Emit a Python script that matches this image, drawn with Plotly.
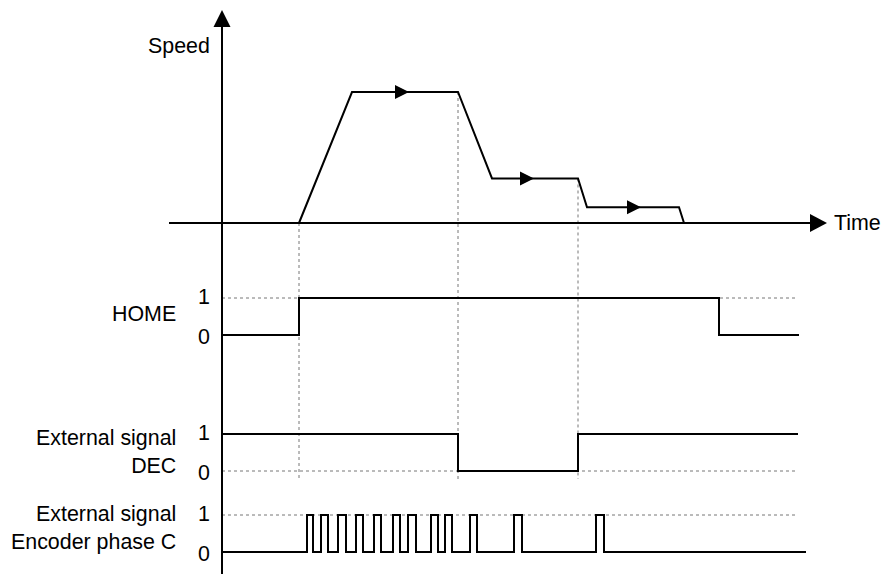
import plotly.graph_objects as go
import numpy as np

W, H = 882, 574
FONT = "Liberation Sans, Arial, sans-serif"

# time in drawing ticks, 0 at the vertical axis
speed_t = [77, 130, 236, 270, 356, 365, 457, 462]
speed_v = [0, 100, 100, 34, 34, 12, 12, 0]
speed_arrow_t = [173, 298, 405]

home_t = [0, 77, 497, 577]
home_v = [0, 1, 0, 0]

dec_t = [0, 236, 356, 576]
dec_v = [1, 0, 1, 1]

enc_rise = [85, 99, 116, 134, 152, 171, 186, 209, 223, 248, 292, 374]
enc_fall = [91, 106, 124, 141, 159, 178, 194, 216, 230, 255, 300, 382]
enc_end = 584

guide_t = [77, 236, 356]
level_end = 576

# pixel layout: (pixel of value 0, pixel of value top, top value)
X0 = 222  # pixel of t=0
AX = {
    "y": (223, 92, 100),    # speed
    "y2": (335, 298, 1),    # HOME
    "y3": (471, 434, 1),    # DEC
    "y4": (552, 515, 1),    # encoder phase C
}


def yrange(key):
    p0, p1, top = AX[key]
    k = (p0 - p1) / top
    return [(p0 - H) / k, p0 / k]


def val(key, pix):
    p0, p1, top = AX[key]
    return (p0 - pix) / ((p0 - p1) / top)


def px_t(pix):
    return pix - X0


fig = go.Figure()
line = dict(color="black", width=2)

fig.add_trace(go.Scatter(x=speed_t, y=speed_v, mode="lines", line=line, yaxis="y"))
fig.add_trace(go.Scatter(x=home_t, y=home_v, mode="lines", line=dict(line, shape="hv"), yaxis="y2"))
fig.add_trace(go.Scatter(x=dec_t, y=dec_v, mode="lines", line=dict(line, shape="hv"), yaxis="y3"))

enc_t, enc_v = [0], [0]
for r, f in zip(enc_rise, enc_fall):
    enc_t += [r, f]
    enc_v += [1, 0]
enc_t.append(enc_end)
enc_v.append(0)
fig.add_trace(go.Scatter(x=enc_t, y=enc_v, mode="lines", line=dict(line, shape="hv"), yaxis="y4"))

shapes = []
dot = dict(color="#777777", width=1, dash="dot")

# dotted level references
for key, lv in [("y2", 1), ("y3", 0), ("y4", 1)]:
    shapes.append(dict(type="line", xref="x", yref=key, x0=0, x1=level_end, y0=lv, y1=lv,
                       line=dot, layer="below"))

# dotted vertical guides from the speed curve down past DEC
for t in guide_t:
    shapes.append(dict(type="line", xref="x", yref="y", x0=t, x1=t,
                       y0=float(np.interp(t, speed_t, speed_v)), y1=val("y", 479),
                       line=dot, layer="below"))

# axes
shapes.append(dict(type="line", xref="x", yref="y", x0=0, x1=0, y0=val("y", 27), y1=val("y", H),
                   line=line))
shapes.append(dict(type="line", xref="x", yref="y", x0=px_t(169), x1=px_t(810), y0=0, y1=0,
                   line=line))


def arrow(x, y, direction, length, half):
    if direction == "up":
        path = f"M {-half},0 L {half},0 L 0,{length} Z"
    else:
        path = f"M 0,{-half} L 0,{half} L {length},0 Z"
    return dict(type="path", xref="x", yref="y", xsizemode="pixel", ysizemode="pixel",
                xanchor=x, yanchor=y, path=path, fillcolor="black", line=dict(width=0))


shapes.append(arrow(0, val("y", 27), "up", 17, 8.5))
shapes.append(arrow(px_t(810), 0, "right", 17, 9))
for t in speed_arrow_t:
    shapes.append(arrow(t, float(np.interp(t, speed_t, speed_v)), "right", 14, 7))

ann = []


def text(s, x, y, yref, xanchor="right", yshift=0):
    ann.append(dict(text=s, x=x, y=y, xref="x", yref=yref, xanchor=xanchor, yanchor="middle",
                    showarrow=False, align="right", yshift=yshift,
                    font=dict(family=FONT, size=21.4, color="black")))


text("Speed", px_t(212), val("y", 46), "y")
text("Time", px_t(832), 0, "y", xanchor="left")
text("HOME", px_t(178), val("y2", 314), "y2")
text("External signal<br>DEC", px_t(178), val("y3", 452), "y3")
text("External signal<br>Encoder phase C", px_t(178), val("y4", 528), "y4")
for key in ["y2", "y3", "y4"]:
    text("1", px_t(212), 1, key, yshift=1)
    text("0", px_t(212), 0, key, yshift=-2)

layout = dict(
    width=W, height=H, margin=dict(l=0, r=0, t=0, b=0),
    paper_bgcolor="white", plot_bgcolor="white", showlegend=False,
    xaxis=dict(range=[-X0, W - X0], visible=False, fixedrange=True),
    shapes=shapes, annotations=ann, hovermode=False,
)
for i, key in enumerate(["y", "y2", "y3", "y4"]):
    name = "yaxis" if key == "y" else "yaxis" + key[1:]
    ax = dict(range=yrange(key), visible=False, fixedrange=True)
    if key != "y":
        ax["overlaying"] = "y"
    layout[name] = ax
fig.update_layout(**layout)

fig.write_html("out.html", config=dict(displayModeBar=False),
               post_script="document.body.style.margin='0';document.body.style.overflow='hidden';")
